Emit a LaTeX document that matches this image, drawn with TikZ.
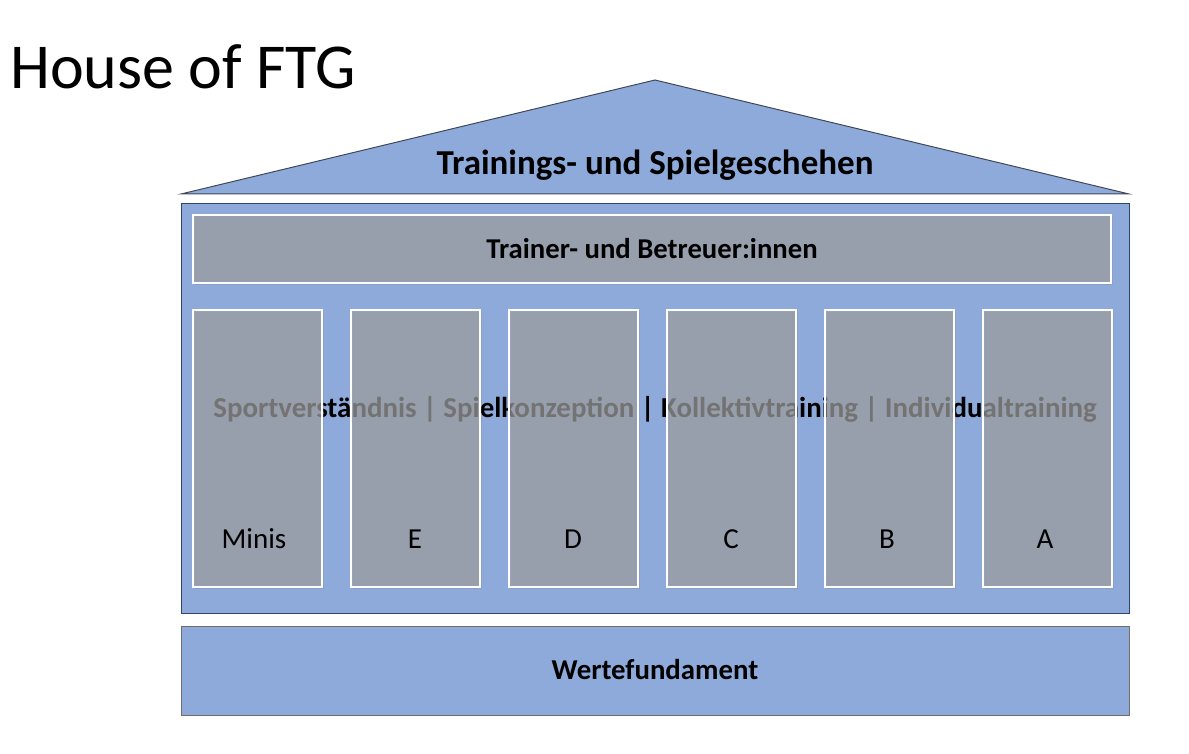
\documentclass[tikz,border=0pt]{standalone}
\usepackage{fontspec}
\setmainfont{Carlito}
\usetikzlibrary{shadows}
\definecolor{hblue}{RGB}{142,170,219}
\definecolor{pgray}{RGB}{160,160,160}
\definecolor{bdark}{RGB}{47,69,112}
\definecolor{fgray}{RGB}{110,110,110}
\definecolor{rdark}{RGB}{64,72,88}
\begin{document}
\begin{tikzpicture}[x=1pt,y=-1pt,
  pillar/.style={draw=white,line width=1.5pt,fill=pgray,fill opacity=0.65,draw opacity=1,
    drop shadow={shadow xshift=1.5pt,shadow yshift=-1.5pt,opacity=0.25}},
  lbl/.style={font=\fontsize{29}{32}\selectfont,text=black}]
\useasboundingbox (0,0) rectangle (1189,754);
% title
\node[anchor=base west,inner sep=0,font=\fontsize{64}{70}\selectfont] (title) at (10,89) {House of FTG};
% roof
\draw[rdark,line width=1pt,fill=hblue] (181,194) -- (655,80) -- (1129,194) -- cycle;
\coordinate (roofc) at (655,165);
\node[font=\bfseries\fontsize{35}{38}\selectfont] (roof) at (roofc) {Trainings- und Spielgeschehen};
% main body
\draw[bdark,line width=1pt,fill=hblue] (181,204) rectangle (1129,613);
% text behind pillars
\node[font=\bfseries\fontsize{28.9}{32}\selectfont] (mid) at (655,409) {Sportverständnis | Spielkonzeption | Kollektivtraining | Individualtraining};
% trainer bar
\path[pillar] (193,215) rectangle (1111,283);
\node[font=\bfseries\fontsize{28.7}{32}\selectfont] (trainer) at (652,249) {Trainer- und Betreuer:innen};
% pillars
\foreach \x/\lx/\n/\t in {193/254/p1/Minis,351/415/p2/E,509/573/p3/D,667/731/p4/C,825/887/p5/B,983/1045/p6/A}{
  \path[pillar] (\x,310) rectangle ++(129,277);
  \node[lbl] (\n) at (\lx,539) {\t};
}
% foundation
\draw[fgray,line width=1pt,fill=hblue] (181,626) rectangle (1129,715);
\node[font=\bfseries\fontsize{28.8}{32}\selectfont] (fund) at (655,669) {Wertefundament};
\end{tikzpicture}
\end{document}
